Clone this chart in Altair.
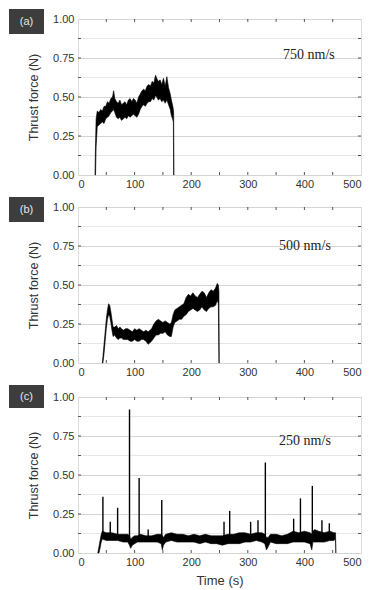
import altair as alt
import pandas as pd

# ---------------- data ----------------
a_t = [30, 31, 32, 34, 37, 40, 43, 46, 49, 52,
       55, 58, 61, 63, 65, 68, 71, 74, 77, 80,
       83, 86, 89, 92, 95, 98, 101, 104, 107, 110,
       113, 116, 119, 122, 125, 128, 131, 134, 137, 139,
       142, 145, 148, 151, 154, 157, 160, 163, 165, 167,
       168.5, 169, 169.5]
a_lo = [0, 0, 0.18, 0.31, 0.32, 0.33, 0.34, 0.33, 0.36, 0.37,
        0.38, 0.40, 0.41, 0.42, 0.40, 0.37, 0.36, 0.37, 0.35, 0.36,
        0.37, 0.36, 0.38, 0.37, 0.38, 0.39, 0.38, 0.37, 0.39, 0.42,
        0.44, 0.45, 0.44, 0.46, 0.47, 0.47, 0.49, 0.48, 0.51, 0.50,
        0.48, 0.49, 0.47, 0.48, 0.46, 0.48, 0.45, 0.42, 0.38, 0.36,
        0.34, 0, 0]
a_hi = [0, 0.2, 0.36, 0.41, 0.40, 0.42, 0.41, 0.44, 0.44, 0.47,
        0.46, 0.49, 0.50, 0.54, 0.49, 0.47, 0.46, 0.48, 0.45, 0.46,
        0.47, 0.45, 0.48, 0.49, 0.47, 0.49, 0.48, 0.46, 0.50, 0.52,
        0.54, 0.55, 0.54, 0.57, 0.58, 0.57, 0.60, 0.59, 0.64, 0.62,
        0.60, 0.61, 0.58, 0.62, 0.57, 0.63, 0.56, 0.52, 0.48, 0.45,
        0.42, 0.40, 0]

b_t = [43, 44, 46, 48, 50, 52, 54, 56, 58, 60,
       62, 65, 68, 71, 74, 77, 80, 84, 88, 92,
       96, 100, 104, 108, 112, 116, 120, 124, 127, 130,
       134, 138, 142, 146, 150, 154, 158, 162, 165, 168,
       171, 175, 179, 183, 187, 191, 195, 199, 203, 207,
       211, 215, 219, 223, 227, 231, 235, 239, 243, 246,
       248, 249, 249.5]
b_lo = [0, 0, 0.06, 0.14, 0.22, 0.28, 0.31, 0.30, 0.26, 0.21,
        0.17, 0.18, 0.16, 0.15, 0.16, 0.16, 0.15, 0.15, 0.15, 0.14,
        0.14, 0.15, 0.14, 0.14, 0.15, 0.15, 0.14, 0.12, 0.13, 0.14,
        0.16, 0.18, 0.18, 0.19, 0.19, 0.20, 0.18, 0.17, 0.17, 0.23,
        0.26, 0.27, 0.28, 0.28, 0.30, 0.31, 0.33, 0.34, 0.35, 0.34,
        0.33, 0.34, 0.36, 0.34, 0.33, 0.35, 0.36, 0.36, 0.37, 0.40,
        0.38, 0, 0]
b_hi = [0, 0.04, 0.12, 0.20, 0.28, 0.34, 0.38, 0.37, 0.33, 0.28,
        0.23, 0.23, 0.24, 0.22, 0.23, 0.22, 0.21, 0.22, 0.22, 0.21,
        0.20, 0.22, 0.21, 0.22, 0.21, 0.20, 0.21, 0.20, 0.21, 0.22,
        0.25, 0.27, 0.28, 0.27, 0.26, 0.27, 0.26, 0.25, 0.26, 0.31,
        0.34, 0.35, 0.36, 0.37, 0.38, 0.42, 0.44, 0.43, 0.45, 0.43,
        0.42, 0.44, 0.46, 0.45, 0.42, 0.45, 0.47, 0.46, 0.48, 0.51,
        0.50, 0.46, 0]

c_t = [35, 37, 39, 41, 43, 50, 60, 70, 80, 88,
       91, 93, 96, 100, 105, 110, 120, 130, 140, 147,
       149, 151, 155, 165, 175, 185, 195, 205, 215, 225,
       235, 245, 255, 265, 275, 285, 295, 305, 315, 325,
       330, 333, 336, 340, 350, 360, 370, 380, 390, 400,
       410, 413, 415, 418, 425, 435, 445, 452, 455, 455.5]
c_lo = [0, 0, 0.03, 0.07, 0.09, 0.08, 0.08, 0.08, 0.07, 0.07,
        0.05, 0.03, 0.05, 0.06, 0.07, 0.07, 0.07, 0.07, 0.07, 0.06,
        0.02, 0.05, 0.07, 0.08, 0.07, 0.07, 0.07, 0.07, 0.06, 0.07,
        0.06, 0.06, 0.05, 0.06, 0.06, 0.06, 0.07, 0.07, 0.08, 0.07,
        0.06, 0.02, 0.04, 0.07, 0.06, 0.06, 0.06, 0.07, 0.07, 0.07,
        0.06, 0.02, 0.07, 0.07, 0.07, 0.07, 0.08, 0.08, 0.09, 0]
c_hi = [0, 0.04, 0.08, 0.12, 0.14, 0.13, 0.13, 0.12, 0.12, 0.12,
        0.11, 0.09, 0.10, 0.11, 0.11, 0.12, 0.11, 0.11, 0.12, 0.12,
        0.11, 0.10, 0.12, 0.13, 0.12, 0.12, 0.11, 0.12, 0.11, 0.12,
        0.11, 0.11, 0.11, 0.12, 0.12, 0.13, 0.13, 0.12, 0.13, 0.13,
        0.12, 0.10, 0.10, 0.12, 0.12, 0.11, 0.12, 0.14, 0.13, 0.14,
        0.13, 0.12, 0.14, 0.15, 0.14, 0.13, 0.14, 0.13, 0.13, 0]

c_spike_t = [44, 57, 70, 91, 108, 124, 148, 258, 268, 305, 318, 331, 381, 393, 414, 431, 444]
c_spike_v = [0.36, 0.20, 0.29, 0.92, 0.48, 0.15, 0.34, 0.20, 0.27, 0.20, 0.21, 0.58, 0.22, 0.35, 0.43, 0.21, 0.19]
c_spike_base = 0.10

panel_labels = ["(a)", "(b)", "(c)"]
speeds = ["750 nm/s", "500 nm/s", "250 nm/s"]
speed_x = [408, 401, 401]
speed_y = [0.77, 0.75, 0.72]

x_ticks_major = [0, 100, 200, 300, 400, 500]
x_ticks_minor = [50, 100, 150, 200, 250, 300, 350, 400, 450]
y_ticks_major = [0, 0.25, 0.5, 0.75, 1.0]
y_ticks_minor = [0.125, 0.25, 0.375, 0.5, 0.625, 0.75, 0.875]
y_grid_minor = [0.125, 0.375, 0.625, 0.875]

# ---------------- styles ----------------
W, H = 283, 156
FRAME = "#555555"
SANS = "Liberation Sans"
SERIF = "Liberation Serif"


def panel(i, t, lo, hi, show_xtitle=False, box_y=(-10, 15), spikes=None):
    xs = alt.Scale(domain=[0, 500], nice=False)
    ys = alt.Scale(domain=[0, 1], nice=False)
    xaxis = alt.Axis(values=x_ticks_major, grid=False, ticks=False, domain=False,
                     labelOverlap=False,
                     labelFont=SANS, labelFontSize=11, labelColor="#333333", labelPadding=3,
                     title="Time (s)" if show_xtitle else None,
                     titleFont=SANS, titleFontSize=13, titleFontWeight="normal",
                     titleColor="#333333", titlePadding=7)
    yaxis = alt.Axis(values=y_ticks_major, format=".2f", grid=True, gridColor="#d4d4d4",
                     ticks=False, domain=False, labelOverlap=False,
                     labelFont=SANS, labelFontSize=11, labelColor="#333333", labelPadding=4,
                     title="Thrust force (N)", titleFont=SANS, titleFontSize=12.5,
                     titleFontWeight="normal", titleColor="#333333", titlePadding=12)

    def X(f):
        return alt.X(f, scale=xs, axis=xaxis)

    def Y(f):
        return alt.Y(f, scale=ys, axis=yaxis)

    df = pd.DataFrame({"t": t, "lo": lo, "hi": hi})
    base_area = alt.Chart(df).mark_area(color="black", stroke="black", strokeWidth=0.6).encode(
        x=X("t:Q"), y=Y("lo:Q"), y2="hi:Q")

    minor = alt.Chart(pd.DataFrame({"g": y_grid_minor})).mark_rule(
        color="#e6e6e6", strokeWidth=1).encode(y=Y("g:Q"))

    xt = pd.DataFrame({"v": x_ticks_minor})
    yt = pd.DataFrame({"v": y_ticks_minor})
    tick_top = alt.Chart(xt).mark_rule(color=FRAME).encode(
        x=X("v:Q"), y=alt.value(0), y2=alt.value(3))
    tick_bot = alt.Chart(xt).mark_rule(color=FRAME).encode(
        x=X("v:Q"), y=alt.value(H), y2=alt.value(H - 3))
    tick_l = alt.Chart(yt).mark_rule(color=FRAME).encode(
        y=Y("v:Q"), x=alt.value(0), x2=alt.value(3))
    tick_r = alt.Chart(yt).mark_rule(color=FRAME).encode(
        y=Y("v:Q"), x=alt.value(W), x2=alt.value(W - 3))

    sp = pd.DataFrame({"label": [speeds[i]], "x": [speed_x[i]], "y": [speed_y[i]]})
    speed_txt = alt.Chart(sp).mark_text(font=SERIF, fontSize=14, color="#222222",
                                        align="center", baseline="middle").encode(
        x=X("x:Q"), y=Y("y:Q"), text="label:N")

    lb = pd.DataFrame({"label": [panel_labels[i]]})
    box = alt.Chart(lb).mark_rect(color="#3d3d3d").encode(
        x=alt.value(-69), x2=alt.value(-34), y=alt.value(box_y[0]), y2=alt.value(box_y[1]))
    box_txt = alt.Chart(lb).mark_text(font=SANS, fontSize=11, color="#e8e8e8",
                                      align="center", baseline="middle").encode(
        x=alt.value(-51.5), y=alt.value((box_y[0] + box_y[1]) / 2), text="label:N")

    layers = [minor, base_area]
    if spikes is not None:
        sdf = pd.DataFrame({"t": spikes[0], "v": spikes[1], "b": [c_spike_base] * len(spikes[0])})
        layers.append(alt.Chart(sdf).mark_rule(color="black", strokeWidth=1.4).encode(
            x=X("t:Q"), y=Y("b:Q"), y2="v:Q"))
    layers += [tick_top, tick_bot, tick_l, tick_r, speed_txt, box, box_txt]
    return alt.layer(*layers).properties(width=W, height=H)


pa = panel(0, a_t, a_lo, a_hi)
pb = panel(1, b_t, b_lo, b_hi)
pc = panel(2, c_t, c_lo, c_hi, show_xtitle=True, box_y=(-12, 11),
           spikes=(c_spike_t, c_spike_v))

chart = alt.vconcat(pa, pb, pc, spacing=6).configure_view(
    stroke=FRAME, strokeWidth=1
).configure_axis(labelOverlap=False).configure(background="white", padding=0)

chart.save("out.html", embed_options={"renderer": "svg", "actions": False})
